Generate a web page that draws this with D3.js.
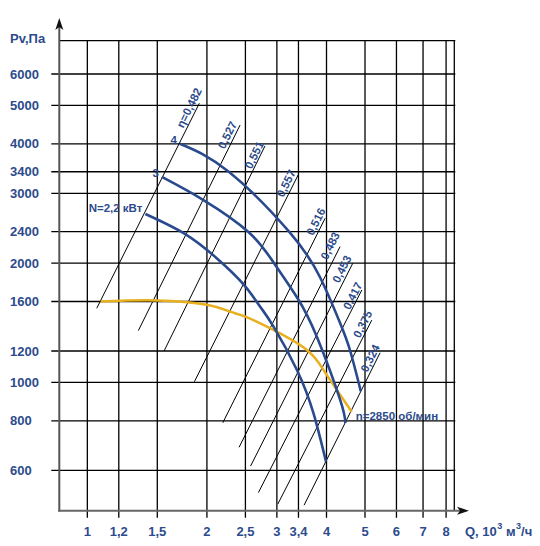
<!DOCTYPE html>
<html>
<head>
<meta charset="utf-8">
<script src="https://cdn.jsdelivr.net/npm/d3@7"></script>
<style>
  html, body { margin: 0; padding: 0; background: #fff; }
  svg { display: block; }
  text { font-family: "Liberation Sans", Arial, sans-serif; font-weight: bold; fill: #2c4b8c; }
</style>
</head>
<body>
<svg id="chart" width="540" height="546"></svg>
<script>
// ---- data ----
const qTicks = [1, 1.2, 1.5, 2, 2.5, 3, 3.4, 4, 5, 6, 7, 8];
const qTickLabels = ["1", "1,2", "1,5", "2", "2,5", "3", "3,4", "4", "5", "6", "7", "8"];
const pTicks = [600, 800, 1000, 1200, 1600, 2000, 2400, 3000, 3400, 4000, 5000, 6000];
const pTickLabels = ["600", "800", "1000", "1200", "1600", "2000", "2400", "3000", "3400", "4000", "5000", "6000"];

// power curves (Q, Pv)
const curveN22 = [[1.40,2660],[1.76,2370],[2.12,2055],[2.47,1770],[2.72,1555],[2.94,1385],[3.37,1075],[3.71,835],[3.99,630]];
const curveN3  = [[1.54,3300],[1.96,2885],[2.54,2400],[2.94,2010],[3.37,1640],[3.78,1305],[4.33,903],[4.46,790]];
const curveN4  = [[1.71,4000],[2.27,3400],[3.22,2400],[3.85,1845],[4.33,1410],[4.59,1200],[4.88,950]];
const curveLabels = ["N=2,2 кВт", "3", "4"];

// fan curve n=2850
const fanCurve = [[1.08,1600],[1.5,1610],[2.0,1570],[2.29,1508],[2.5,1465],[2.94,1356],[3.57,1207],[3.93,1075],[4.25,956],[4.63,843]];
const fanLabel = "n=2850 об/мин";

// efficiency lines: [bottom Q, bottom P, top Q, top P]
const etaLines = [
  [1.056,1538, 1.914,5061],
  [1.344,1351, 2.424,4461],
  [1.560,1200, 2.800,3950],
  [1.860,1004, 3.400,3350],
  [2.193,791,  3.967,2594],
  [2.410,686,  4.327,2200],
  [2.576,615,  4.658,1998],
  [2.695,527,  4.910,1711],
  [3.016,493,  5.200,1436],
  [3.513,490,  5.457,1188]
];
const etaLabels = ["η=0,482","0,527","0,551","0,557","0,516","0,483","0,453","0,417","0,375","0,324"];
const etaLabelPoints = [[1.87,4840],[2.334,4134],[2.73,3681],[3.28,3122],[3.90,2498],[4.236,2172],[4.532,1896],[4.826,1624],[5.113,1378],[5.341,1130]];

const qDomain = [0.85, 8.39];
const pDomain = [474.5, 7281];

// ---- drawing ----
const svg = d3.select("#chart");
const x = d3.scaleLog().domain(qDomain).range([59.3, 454.3]);
const y = d3.scaleLog().domain(pDomain).range([510.7, 40.7]);

const CURVE_BLUE = "#2a4a8e";
const YELLOW = "#e8b01e";

// grid
const grid = svg.append("g");
grid.selectAll("line.h").data(pTicks).join("line")
  .attr("x1", x(qDomain[0]) - 8).attr("x2", x(qDomain[1]) + 1)
  .attr("y1", d => y(d)).attr("y2", d => y(d))
  .attr("stroke", "#000").attr("stroke-width", 1.3);
grid.append("line")
  .attr("x1", x(qDomain[0])).attr("x2", x(qDomain[1]) + 1)
  .attr("y1", y(pDomain[1])).attr("y2", y(pDomain[1]))
  .attr("stroke", "#000").attr("stroke-width", 1.3);
grid.selectAll("line.v").data(qTicks).join("line")
  .attr("x1", d => x(d)).attr("x2", d => x(d))
  .attr("y1", y(pDomain[1])).attr("y2", y(pDomain[0]) + 7)
  .attr("stroke", "#000").attr("stroke-width", 1.3);
grid.append("line")
  .attr("x1", x(qDomain[1])).attr("x2", x(qDomain[1]))
  .attr("y1", y(pDomain[1])).attr("y2", y(pDomain[0]))
  .attr("stroke", "#000").attr("stroke-width", 1.3);

// efficiency lines
const etaG = svg.append("g");
etaG.selectAll("line").data(etaLines).join("line")
  .attr("x1", d => x(d[0])).attr("y1", d => y(d[1]))
  .attr("x2", d => x(d[2])).attr("y2", d => y(d[3]))
  .attr("stroke", "#000").attr("stroke-width", 1);

etaG.selectAll("text").data(etaLabels).join("text")
  .attr("transform", (d, i) => {
    const L = etaLines[i];
    const ang = Math.atan2(y(L[3]) - y(L[1]), x(L[2]) - x(L[0])) * 180 / Math.PI;
    const p = etaLabelPoints[i];
    return `translate(${x(p[0])},${y(p[1])}) rotate(${ang})`;
  })
  .attr("text-anchor", "middle")
  .attr("dy", -3)
  .attr("font-size", 11.5)
  .text(d => d);

// axes
const axG = svg.append("g");
axG.append("line")
  .attr("x1", x(qDomain[0])).attr("x2", x(qDomain[0]))
  .attr("y1", y(pDomain[0]) + 1).attr("y2", 26)
  .attr("stroke", "#555").attr("stroke-width", 2);
axG.append("line")
  .attr("x1", x(qDomain[0]) - 1).attr("x2", 462)
  .attr("y1", y(pDomain[0])).attr("y2", y(pDomain[0]))
  .attr("stroke", "#666").attr("stroke-width", 2);
const ax0 = x(qDomain[0]), ay0 = y(pDomain[0]);
axG.append("path")
  .attr("d", `M${ax0},18 L${ax0 - 4},30 L${ax0},27 L${ax0 + 4},30 Z`)
  .attr("fill", "#111");
axG.append("path")
  .attr("d", `M469,${ay0} L457,${ay0 - 4} L460,${ay0} L457,${ay0 + 4} Z`)
  .attr("fill", "#111");

// curves
const line = d3.line().x(d => x(d[0])).y(d => y(d[1])).curve(d3.curveNatural);
svg.append("path").datum(fanCurve)
  .attr("d", line).attr("fill", "none")
  .attr("stroke", YELLOW).attr("stroke-width", 2.5);

const curves = [curveN22, curveN3, curveN4];
svg.selectAll("path.pc").data(curves).join("path")
  .attr("class", "pc")
  .attr("d", line).attr("fill", "none")
  .attr("stroke", CURVE_BLUE).attr("stroke-width", 2.6);

// curve labels
svg.selectAll("text.cl").data(curveLabels).join("text")
  .attr("class", "cl")
  .attr("x", (d, i) => x(curves[i][0][0]) - 3)
  .attr("y", (d, i) => y(curves[i][0][1]) - (i === 0 ? 2 : 0))
  .attr("text-anchor", "end")
  .attr("font-size", 11.5)
  .text(d => d);

svg.append("text")
  .attr("x", x(fanCurve[fanCurve.length - 1][0]) + 4)
  .attr("y", y(fanCurve[fanCurve.length - 1][1]) + 8)
  .attr("font-size", 11.5)
  .text(fanLabel);

// tick labels
svg.selectAll("text.yt").data(pTicks).join("text")
  .attr("class", "yt")
  .attr("x", 10).attr("y", d => y(d) + 4.7)
  .attr("font-size", 13)
  .text((d, i) => pTickLabels[i]);

svg.selectAll("text.xt").data(qTicks).join("text")
  .attr("class", "xt")
  .attr("x", d => x(d)).attr("y", 535.7)
  .attr("text-anchor", "middle")
  .attr("font-size", 13)
  .text((d, i) => qTickLabels[i]);

// axis titles
svg.append("text").attr("x", 10).attr("y", 43.3).attr("font-size", 13).text("Pv,Па");

const qt = svg.append("text").attr("x", 465).attr("y", 535.7).attr("font-size", 13);
qt.append("tspan").text("Q, 10");
qt.append("tspan").attr("dy", -7).attr("dx", 0.5).attr("font-size", 9).text("3");
qt.append("tspan").attr("dy", 7).text(" м");
qt.append("tspan").attr("dy", -7).attr("dx", 0.5).attr("font-size", 9).text("3");
qt.append("tspan").attr("dy", 7).attr("dx", 0).text("/ч");
</script>
</body>
</html>
